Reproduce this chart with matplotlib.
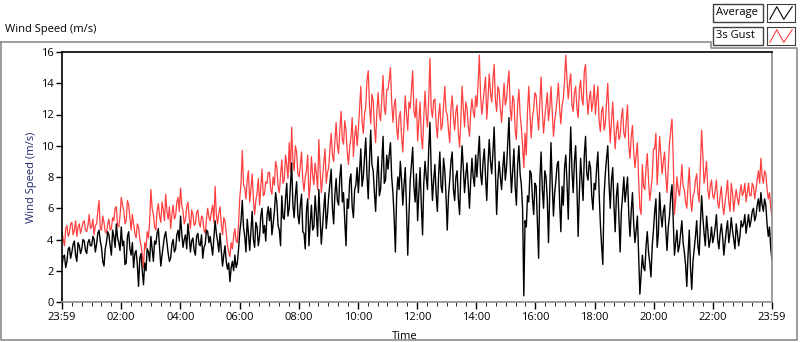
import numpy as np
import matplotlib
matplotlib.use("Agg")
import matplotlib.pyplot as plt
from matplotlib.patches import Rectangle
from matplotlib.lines import Line2D

plt.rcParams['font.family'] = ['Open Sans', 'DejaVu Sans']

# 3s gust, 24 samples per hour (one row per hour)
gust = [
    4.5, 4.0, 3.6, 4.7, 4.9, 4.2, 4.4, 5.0, 5.1, 4.3, 4.6, 5.2, 4.2, 4.8, 5.0, 4.4, 4.7, 5.1, 5.2, 4.6, 4.5, 4.9, 5.6, 4.7,
    4.8, 5.3, 4.3, 4.9, 5.0, 5.8, 6.5, 4.7, 4.6, 5.5, 5.1, 4.5, 4.4, 5.0, 5.3, 4.6, 4.7, 5.4, 5.2, 6.0, 6.1, 4.9, 4.8, 5.5,
    6.7, 6.2, 5.9, 5.0, 5.2, 6.5, 6.2, 5.4, 4.6, 5.6, 5.0, 4.4, 4.1, 5.0, 4.8, 4.0, 3.6, 3.0, 2.2, 3.8, 3.4, 4.5, 4.1, 5.2,
    7.2, 6.0, 5.6, 4.8, 4.6, 5.8, 6.3, 5.5, 5.1, 6.4, 5.9, 5.2, 6.9, 5.8, 5.3, 6.1, 4.7, 5.6, 6.2, 5.3, 5.5, 6.4, 6.7, 5.8,
    7.3, 6.2, 5.8, 5.0, 5.3, 6.1, 6.4, 5.4, 4.7, 5.9, 5.6, 4.9, 5.0, 5.7, 5.9, 5.1, 4.8, 5.5, 5.4, 4.6, 4.4, 5.3, 6.0, 5.4,
    5.2, 5.8, 6.2, 5.1, 7.4, 5.6, 5.0, 5.7, 6.1, 5.0, 4.3, 5.4, 5.2, 4.4, 3.6, 3.2, 2.9, 3.8, 3.4, 4.2, 4.7, 3.9, 3.8, 5.0,
    6.7, 7.6, 9.7, 7.5, 7.3, 6.6, 7.8, 8.4, 6.4, 7.2, 8.2, 6.6, 5.6, 6.5, 7.0, 7.9, 6.2, 7.4, 8.5, 6.8, 6.9, 7.7, 7.6, 8.3,
    8.3, 7.2, 6.9, 8.0, 7.5, 9.0, 8.6, 7.4, 7.0, 8.1, 9.1, 7.6, 7.8, 9.4, 8.8, 7.9, 10.2, 8.3, 11.2, 9.0, 8.4, 10.0, 9.6, 8.2,
    8.0, 8.7, 9.6, 7.8, 7.1, 8.0, 8.4, 9.4, 6.6, 7.5, 9.3, 8.1, 7.5, 8.9, 8.2, 7.2, 10.4, 8.5, 7.0, 7.9, 8.9, 9.8, 7.6, 8.3,
    8.6, 9.8, 10.8, 9.4, 9.0, 10.2, 11.5, 10.0, 9.5, 11.0, 12.2, 10.4, 10.1, 11.6, 11.0, 9.6, 8.8, 9.9, 10.5, 11.8, 9.3, 10.6, 11.3, 10.0,
    11.0, 12.4, 13.8, 11.6, 10.8, 12.0, 12.5, 14.2, 14.8, 12.6, 11.4, 13.3, 12.9, 11.2, 10.2, 12.2, 13.4, 12.0, 11.6, 13.0, 14.5, 12.4, 12.0, 13.6,
    13.6, 14.2, 15.0, 12.8, 11.5, 12.6, 13.0, 11.2, 10.4, 11.8, 12.2, 10.6, 9.6, 11.4, 13.2, 12.0, 11.0, 12.8, 12.4, 13.6, 14.8, 12.2, 11.8, 13.0,
    10.3, 11.6, 12.8, 10.6, 9.8, 11.8, 13.5, 12.0, 11.2, 13.0, 15.6, 12.4, 11.8, 12.9, 13.0, 11.4, 10.5, 11.9, 12.7, 11.0, 11.3, 12.6, 13.8, 12.2,
    12.0, 11.0, 10.2, 12.4, 13.2, 11.8, 11.0, 12.2, 12.6, 10.8, 9.9, 11.6, 13.8, 12.4, 11.2, 12.8, 12.4, 11.3, 10.6, 12.1, 13.0, 12.2, 11.8, 13.2,
    12.5, 14.0, 15.8, 13.2, 12.0, 12.8, 13.6, 14.4, 11.7, 13.0, 14.6, 13.4, 12.8, 14.2, 15.2, 12.9, 12.2, 13.8, 13.5, 12.4, 11.5, 12.8, 14.0, 12.6,
    13.0, 14.0, 14.8, 12.4, 11.6, 13.2, 12.9, 11.0, 10.4, 12.6, 13.6, 12.0, 11.2, 10.0, 8.6, 10.8, 9.4, 12.2, 13.8, 12.0, 10.5, 11.8, 12.4, 13.4,
    13.2, 12.0, 11.0, 12.8, 14.4, 12.2, 10.8, 11.8, 12.6, 13.4, 11.6, 12.4, 13.8, 12.2, 10.6, 11.6, 12.2, 13.0, 14.0, 12.4, 11.4, 12.6, 13.0, 14.2,
    15.8, 14.2, 13.0, 14.0, 14.6, 12.6, 12.2, 13.4, 13.8, 12.4, 11.8, 13.6, 14.2, 13.0, 12.6, 14.8, 15.2, 13.2, 12.0, 13.0, 13.5, 12.2, 12.8, 13.9,
    12.0, 13.0, 13.8, 11.6, 10.9, 12.2, 12.5, 11.0, 11.4, 12.8, 14.0, 11.8, 10.2, 11.6, 12.8, 11.2, 9.8, 11.0, 11.6, 10.4, 10.6, 11.8, 12.4, 10.8,
    10.5, 11.6, 12.6, 10.0, 9.2, 10.6, 11.3, 9.6, 8.6, 9.4, 10.2, 7.8, 6.0, 5.6, 8.8, 7.4, 7.2, 8.6, 9.5, 7.8, 6.5, 7.2, 8.0, 9.8,
    9.8, 10.8, 7.5, 9.0, 10.6, 9.4, 8.2, 9.0, 9.6, 8.0, 7.0, 8.6, 10.2, 11.0, 11.7, 9.2, 5.6, 6.6, 8.0, 7.2, 6.8, 7.6, 8.8, 7.4,
    7.2, 6.4, 6.0, 7.4, 8.6, 6.6, 5.8, 6.8, 7.0, 7.8, 8.2, 7.0, 6.4, 8.8, 11.0, 9.4, 7.6, 8.2, 9.0, 7.2, 6.6, 7.4, 7.8, 6.8,
    6.6, 7.2, 7.8, 6.4, 6.0, 6.8, 7.4, 6.2, 5.6, 6.4, 7.0, 7.8, 6.4, 5.8, 7.6, 7.0, 5.8, 6.6, 7.2, 6.6, 6.2, 7.0, 7.5, 6.8,
    7.0, 7.6, 6.4, 7.0, 7.6, 6.8, 6.8, 7.6, 7.4, 6.6, 7.2, 7.8, 8.4, 7.6, 9.2, 8.0, 7.6, 8.4, 8.2, 7.2, 6.6, 7.0, 6.0, 5.5,
]

# average wind speed, same sampling
average = [
    2.3, 2.9, 3.0, 2.2, 2.6, 3.4, 3.5, 2.8, 3.2, 3.7, 3.9, 3.0, 2.6, 3.8, 3.6, 3.1, 3.4, 4.0, 3.9, 3.3, 3.1, 3.8, 4.0, 3.6,
    3.6, 4.2, 4.0, 3.2, 3.7, 4.4, 4.6, 3.9, 3.5, 2.6, 2.3, 3.4, 3.8, 4.5, 4.3, 3.6, 3.0, 4.6, 4.2, 3.5, 5.0, 4.1, 3.8, 3.3,
    4.8, 3.6, 3.9, 2.4, 2.5, 4.2, 4.5, 3.4, 3.0, 3.8, 2.2, 3.1, 3.3, 2.4, 1.0, 2.8, 3.1, 2.0, 1.1, 2.5, 2.0, 3.4, 3.2, 2.6,
    4.2, 3.4, 2.6, 3.9, 3.7, 4.4, 4.7, 3.5, 2.3, 3.0, 3.6, 4.2, 4.5, 3.8, 3.1, 2.6, 2.8, 3.7, 4.0, 3.2, 3.4, 4.3, 4.6, 3.9,
    5.5, 4.4, 3.5, 4.0, 4.3, 3.4, 5.0, 4.2, 3.2, 3.9, 4.1, 3.3, 3.0, 4.2, 4.4, 3.7, 3.6, 4.3, 2.8, 3.5, 3.7, 4.6, 4.5, 3.8,
    4.2, 3.6, 3.0, 4.1, 5.2, 4.4, 3.9, 3.2, 4.4, 3.3, 2.3, 3.0, 3.6, 2.6, 2.1, 2.5, 1.3, 2.2, 2.6, 2.0, 3.0, 2.2, 2.5, 3.4,
    4.5, 5.2, 6.5, 4.8, 4.2, 3.2, 5.3, 4.4, 3.3, 4.6, 5.8, 4.0, 3.5, 5.1, 4.8, 3.6, 4.2, 5.5, 6.0, 4.4, 4.9, 3.9, 5.5, 6.1,
    5.2, 6.0, 4.3, 5.0, 5.8, 7.0, 6.4, 4.9, 4.6, 3.6, 6.8, 5.4, 5.3, 6.6, 7.6, 5.5, 6.0, 7.4, 8.9, 6.2, 5.4, 6.8, 7.7, 5.6,
    5.0, 6.2, 6.9, 4.5, 4.4, 3.4, 5.9, 6.6, 3.6, 5.0, 6.2, 4.6, 4.8, 6.8, 5.6, 4.2, 7.2, 5.5, 3.7, 4.8, 6.0, 7.0, 4.7, 5.6,
    6.8, 7.6, 8.5, 6.0, 5.0, 6.9, 7.9, 6.5, 6.2, 8.0, 8.8, 6.4, 7.0, 5.2, 3.6, 6.6, 6.0, 7.8, 8.2, 6.1, 5.4, 7.2, 7.5, 8.6,
    7.0, 8.4, 9.8, 7.4, 8.0, 9.2, 10.5, 8.1, 6.6, 9.0, 11.0, 8.8, 8.4, 7.0, 5.8, 8.0, 9.3, 6.8, 7.2, 8.9, 10.6, 7.6, 7.8, 9.4,
    8.5, 9.4, 10.2, 8.0, 7.0, 5.4, 3.2, 6.8, 8.0, 7.2, 9.0, 7.8, 6.2, 7.5, 8.6, 6.0, 3.0, 5.6, 7.8, 8.8, 9.9, 7.4, 6.4, 8.2,
    5.2, 7.0, 8.6, 6.2, 4.3, 7.6, 9.0, 8.0, 7.2, 9.8, 11.5, 8.4, 6.5, 7.8, 8.8, 6.9, 5.8, 8.1, 9.6, 7.4, 7.0, 9.2, 8.4, 6.8,
    4.6, 6.8, 7.8, 9.0, 9.6, 7.2, 6.5, 8.0, 8.4, 6.6, 5.6, 8.2, 10.0, 8.6, 7.0, 8.1, 8.9, 7.4, 6.0, 7.8, 9.2, 8.0, 7.4, 9.4,
    8.0, 9.4, 10.6, 8.2, 7.5, 9.0, 9.8, 8.0, 6.5, 8.8, 10.4, 9.0, 8.2, 9.6, 11.2, 8.4, 5.6, 7.8, 9.0, 8.0, 7.2, 8.6, 9.6, 7.8,
    8.6, 10.2, 11.8, 8.8, 7.0, 8.4, 9.8, 7.4, 6.2, 8.8, 10.0, 8.2, 7.5, 6.0, 0.4, 5.2, 4.8, 6.8, 6.4, 8.4, 8.2, 6.6, 5.6, 7.6,
    7.4, 5.0, 2.8, 7.8, 9.6, 7.2, 6.0, 8.4, 8.0, 6.6, 3.8, 7.0, 10.2, 7.6, 5.5, 7.0, 7.8, 8.8, 9.0, 6.4, 4.5, 7.4, 6.2, 8.6,
    9.4, 7.6, 5.3, 8.8, 11.2, 8.4, 7.0, 9.0, 10.0, 7.4, 4.2, 7.0, 9.2, 7.8, 6.5, 9.4, 10.6, 8.2, 7.8, 9.0, 8.6, 6.8, 5.9, 7.6,
    7.2, 8.6, 9.6, 7.0, 5.0, 3.6, 2.4, 6.8, 8.2, 9.2, 10.0, 7.6, 6.0, 7.8, 8.6, 6.2, 4.5, 6.8, 7.6, 5.4, 3.2, 5.8, 6.8, 8.0,
    6.4, 7.2, 8.0, 5.6, 4.2, 5.8, 7.0, 5.0, 3.8, 4.6, 5.5, 3.0, 0.5, 1.8, 3.0, 2.2, 2.0, 3.6, 4.5, 3.2, 2.5, 1.6, 3.6, 4.6,
    5.8, 6.6, 3.5, 4.4, 7.0, 5.6, 4.8, 5.8, 6.2, 4.6, 3.3, 4.8, 5.5, 6.8, 7.5, 5.2, 3.0, 3.8, 4.6, 3.2, 3.6, 4.4, 5.2, 3.8,
    3.2, 2.4, 1.0, 3.0, 4.6, 2.2, 0.8, 2.6, 3.4, 4.2, 5.2, 3.6, 3.0, 5.0, 6.8, 5.4, 4.4, 3.6, 5.5, 4.6, 3.5, 4.0, 4.8, 3.8,
    4.2, 4.8, 5.6, 4.0, 3.4, 4.4, 5.0, 4.2, 3.0, 3.8, 4.6, 5.2, 3.8, 4.4, 5.4, 4.6, 4.0, 3.4, 5.0, 4.4, 3.6, 4.2, 5.2, 4.8,
    5.0, 5.6, 4.4, 5.0, 5.6, 4.8, 5.2, 5.8, 6.0, 5.2, 5.5, 6.2, 6.6, 5.8, 7.0, 6.2, 5.8, 6.6, 6.2, 5.0, 4.2, 4.8, 3.4, 2.7,
]

x_ticks = [0, 2, 4, 6, 8, 10, 12, 14, 16, 18, 20, 22, 24]
x_labels = ["23:59", "02:00", "04:00", "06:00", "08:00", "10:00", "12:00",
            "14:00", "16:00", "18:00", "20:00", "22:00", "23:59"]
y_ticks = [0, 2, 4, 6, 8, 10, 12, 14, 16]

t_gust = np.linspace(0, 24, len(gust))
t_avg = np.linspace(0, 24, len(average))

W, H = 800, 342
fig = plt.figure(figsize=(W / 100, H / 100), dpi=100)

def fline(xs, ys, color='#8c8c8c', lw=1.2):
    fig.lines.append(Line2D([x / W for x in xs], [1 - y / H for y in ys],
                            transform=fig.transFigure, color=color, lw=lw))

# outer chart frame, stepped under the legend
fline([1, 1, 797, 797, 711, 711, 1], [42, 340, 340, 48, 48, 42, 42])
fig.text(5 / W, 1 - 32 / H, "Wind Speed (m/s)", fontsize=8, va='baseline', ha='left')

ax = fig.add_axes([62 / W, 1 - 302 / H, 710 / W, 250 / H])
ax.plot(t_gust, gust, color='#ff4040', lw=0.9)
ax.plot(t_avg, average, color='black', lw=1.0)

ax.set_xlim(0, 24)
ax.set_ylim(0, 16)
ax.set_xticks(x_ticks)
ax.set_xticklabels(x_labels)
ax.set_xticks(np.arange(0, 24.01, 1 / 3), minor=True)
ax.set_yticks(y_ticks)
ax.tick_params(axis='both', direction='out', labelsize=8, width=1, pad=2)
ax.tick_params(axis='x', which='major', length=5)
ax.tick_params(axis='x', which='minor', length=3)
ax.tick_params(axis='y', length=4)
for s in ['left', 'top']:
    ax.spines[s].set_color('black')
    ax.spines[s].set_linewidth(1.2)
for s in ['right', 'bottom']:
    ax.spines[s].set_color('#8c8c8c')
    ax.spines[s].set_linewidth(1.2)
ax.set_ylabel("Wind Speed (m/s)", fontsize=8, color='#1f2a6b', labelpad=3)
ax.set_xlabel("Time", fontsize=8)
ax.xaxis.set_label_coords((405 - 62) / 710, -0.115)

# legend boxes like the LabVIEW plot legend
legend_items = [("Average", 'black'), ("3s Gust", '#ff4040')]
for i, (name, col) in enumerate(legend_items):
    top = 4 + i * 23
    fig.patches.append(Rectangle((713 / W, 1 - (top + 18) / H), 50 / W, 18 / H,
                                 transform=fig.transFigure, facecolor='white',
                                 edgecolor='#404040', lw=1))
    fig.text(716 / W, 1 - (top + 9) / H, name, fontsize=8, va='center', ha='left')
    ic = fig.add_axes([767 / W, 1 - (top + 18) / H, 28 / W, 18 / H])
    ic.plot([0.1, 0.35, 0.6, 0.9], [0.15, 0.85, 0.15, 0.85], color=col, lw=0.8)
    ic.set_xlim(0, 1)
    ic.set_ylim(0, 1)
    ic.set_xticks([])
    ic.set_yticks([])
    for s in ic.spines.values():
        s.set_color('#404040')

fig.savefig("out.png", dpi=100)
